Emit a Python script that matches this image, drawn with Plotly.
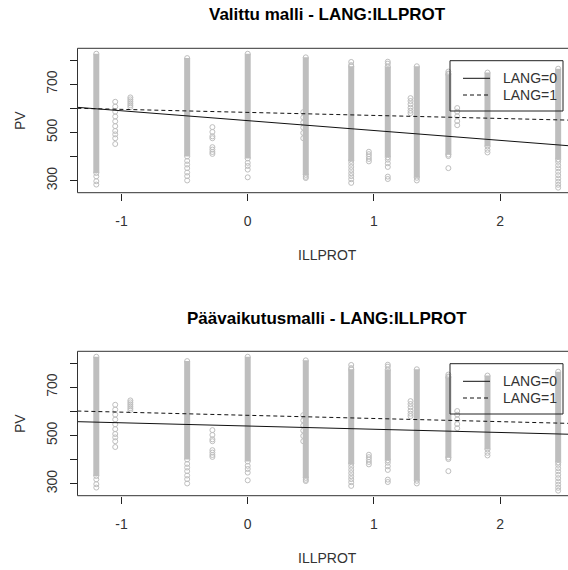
import plotly.graph_objects as go

# ILLPROT levels (one column of points per level)
illprot_levels = [-1.20, -1.05, -0.93, -0.48, -0.28, 0.00, 0.44, 0.46, 0.82,
                  0.96, 1.11, 1.29, 1.34, 1.59, 1.66, 1.90, 2.46]
# PV range covered by densely overlapping points (None = only a few points)
dense_lo = [332, None, None, 400, None, 392, None, 324, 382,
            None, 397, None, 312, 408, None, 442, 388]
dense_hi = [826, None, None, 808, None, 826, None, 811, 774,
            None, 773, None, 774, 741, None, 748, 764]
# individually visible PV values per level
sparse_pv = [
    [318, 298, 284],
    [627, 607, 586, 566, 546, 526, 506, 492, 476, 452],
    [645, 637, 629, 621, 613, 605],
    [382, 367, 352, 334, 319, 301],
    [522, 502, 484, 476, 439, 429, 419, 411],
    [374, 361, 346, 314],
    [584, 562, 541, 520, 498, 476],
    [316, 311],
    [792, 779, 370, 357, 344, 331, 319, 306, 291],
    [420, 410, 400, 390, 380],
    [793, 785, 387, 372, 357, 317, 307],
    [642, 630, 617, 602, 590, 580],
    [301],
    [752, 744, 402, 352],
    [601, 586, 567, 547, 530],
    [428, 417],
    [378, 364, 351, 337, 323, 309, 296, 283, 271],
]

# fitted lines: ILLPROT end points and predicted PV
fit_x = [-1.35, 2.54]
titles = ["Valittu malli - LANG:ILLPROT", "Päävaikutusmalli - LANG:ILLPROT"]
fit_lang0 = [[604, 445], [557, 505]]
fit_lang1 = [[600, 551], [601, 550]]
legend_labels = ["LANG=0", "LANG=1"]

x_ticks = [-1, 0, 1, 2]
x_ticktext = ["-1", "0", "1", "2"]
y_ticks = [300, 400, 500, 600, 700, 800]
y_ticktext = ["300", "", "500", "", "700", ""]

W, H = 568, 570
GREY = "#bebebe"
FONT = "Liberation Sans, Arial, sans-serif"
INK = "#333333"

plot_left = 77.5
panel_top = [48.3, 351.3]
panel_bottom = [192.7, 495.7]

fig = go.Figure()


def py(px):
    return 1 - px / H


def px_(p):
    return p / W


for k in range(2):
    xa = "x" if k == 0 else "x2"
    ya = "y" if k == 0 else "y2"

    # dense parts of each column as thick grey segments
    bx, by = [], []
    mx, my = [], []
    for i, lvl in enumerate(illprot_levels):
        if dense_lo[i] is not None:
            bx += [lvl, lvl, None]
            by += [dense_lo[i], dense_hi[i], None]
            mx += [lvl, lvl]
            my += [dense_lo[i], dense_hi[i]]
        for v in sparse_pv[i]:
            mx.append(lvl)
            my.append(v)
    fig.add_trace(go.Scatter(x=bx, y=by, mode="lines", xaxis=xa, yaxis=ya,
                             line=dict(color=GREY, width=6),
                             showlegend=False, hoverinfo="skip"))
    fig.add_trace(go.Scatter(x=mx, y=my, mode="markers", xaxis=xa, yaxis=ya,
                             marker=dict(symbol="circle-open", size=5,
                                         color=GREY, line=dict(width=1, color=GREY)),
                             showlegend=False, hoverinfo="skip"))
    fig.add_trace(go.Scatter(x=fit_x, y=fit_lang0[k], mode="lines", xaxis=xa, yaxis=ya,
                             line=dict(color="#111111", width=1),
                             showlegend=False, hoverinfo="skip"))
    fig.add_trace(go.Scatter(x=fit_x, y=fit_lang1[k], mode="lines", xaxis=xa, yaxis=ya,
                             line=dict(color="#111111", width=1, dash="4px,3px"),
                             showlegend=False, hoverinfo="skip"))

axis_common = dict(showgrid=False, zeroline=False, showline=False,
                   ticks="outside", ticklen=7, tickwidth=1, tickcolor="#222222",
                   tickfont=dict(family=FONT, size=14, color=INK))

layout = dict(width=W, height=H, autosize=False,
              margin=dict(l=0, r=0, t=0, b=0),
              paper_bgcolor="white", plot_bgcolor="white",
              showlegend=False, shapes=[], annotations=[])

for k in range(2):
    sx = "" if k == 0 else "2"
    layout["xaxis" + sx] = dict(axis_common, domain=[px_(plot_left), 1],
                                range=[-1.349, 2.538], tickvals=x_ticks,
                                ticktext=x_ticktext, ticklabelstandoff=8,
                                anchor="y" + sx)
    layout["yaxis" + sx] = dict(axis_common, domain=[py(panel_bottom[k]), py(panel_top[k])],
                                range=[250.3, 848.5], tickvals=y_ticks,
                                ticktext=y_ticktext, tickangle=-90,
                                ticklabelstandoff=7, anchor="x" + sx)

    off = 303 * k
    # plot box (right side runs past the page edge)
    layout["shapes"].append(dict(type="rect", xref="paper", yref="paper",
                                 x0=px_(plot_left), x1=1.05,
                                 y0=py(panel_bottom[k]), y1=py(panel_top[k]),
                                 line=dict(color="#333333", width=1), layer="above"))
    # legend frame and keys
    layout["shapes"].append(dict(type="rect", xref="paper", yref="paper",
                                 x0=px_(450), x1=px_(563),
                                 y0=py(111 + off), y1=py(60.7 + off),
                                 line=dict(color="#222222", width=1), layer="above"))
    for j, (dash, ly) in enumerate([("solid", 78.3), ("4px,3px", 95.0)]):
        layout["shapes"].append(dict(type="line", xref="paper", yref="paper",
                                     x0=px_(463), x1=px_(490),
                                     y0=py(ly + off), y1=py(ly + off),
                                     line=dict(color="#111111", width=1, dash=dash)))
        layout["annotations"].append(dict(text=legend_labels[j], xref="paper", yref="paper",
                                          x=px_(501), y=py(ly + off), xanchor="left",
                                          yanchor="middle", showarrow=False,
                                          font=dict(family=FONT, size=14, color=INK)))
    # titles
    layout["annotations"].append(dict(text="<b>" + titles[k] + "</b>", xref="paper", yref="paper",
                                      x=px_(327), y=py(15 + off), xanchor="center",
                                      yanchor="middle", showarrow=False,
                                      font=dict(family=FONT, size=17, color="#000000")))
    layout["annotations"].append(dict(text="ILLPROT", xref="paper", yref="paper",
                                      x=px_(327), y=py(255 + off), xanchor="center",
                                      yanchor="middle", showarrow=False,
                                      font=dict(family=FONT, size=14, color=INK)))
    layout["annotations"].append(dict(text="PV", xref="paper", yref="paper",
                                      x=px_(20), y=py(121 + off), xanchor="center",
                                      yanchor="middle", showarrow=False, textangle=-90,
                                      font=dict(family=FONT, size=14, color=INK)))

fig.update_layout(**layout)
fig.write_html("out.html")
